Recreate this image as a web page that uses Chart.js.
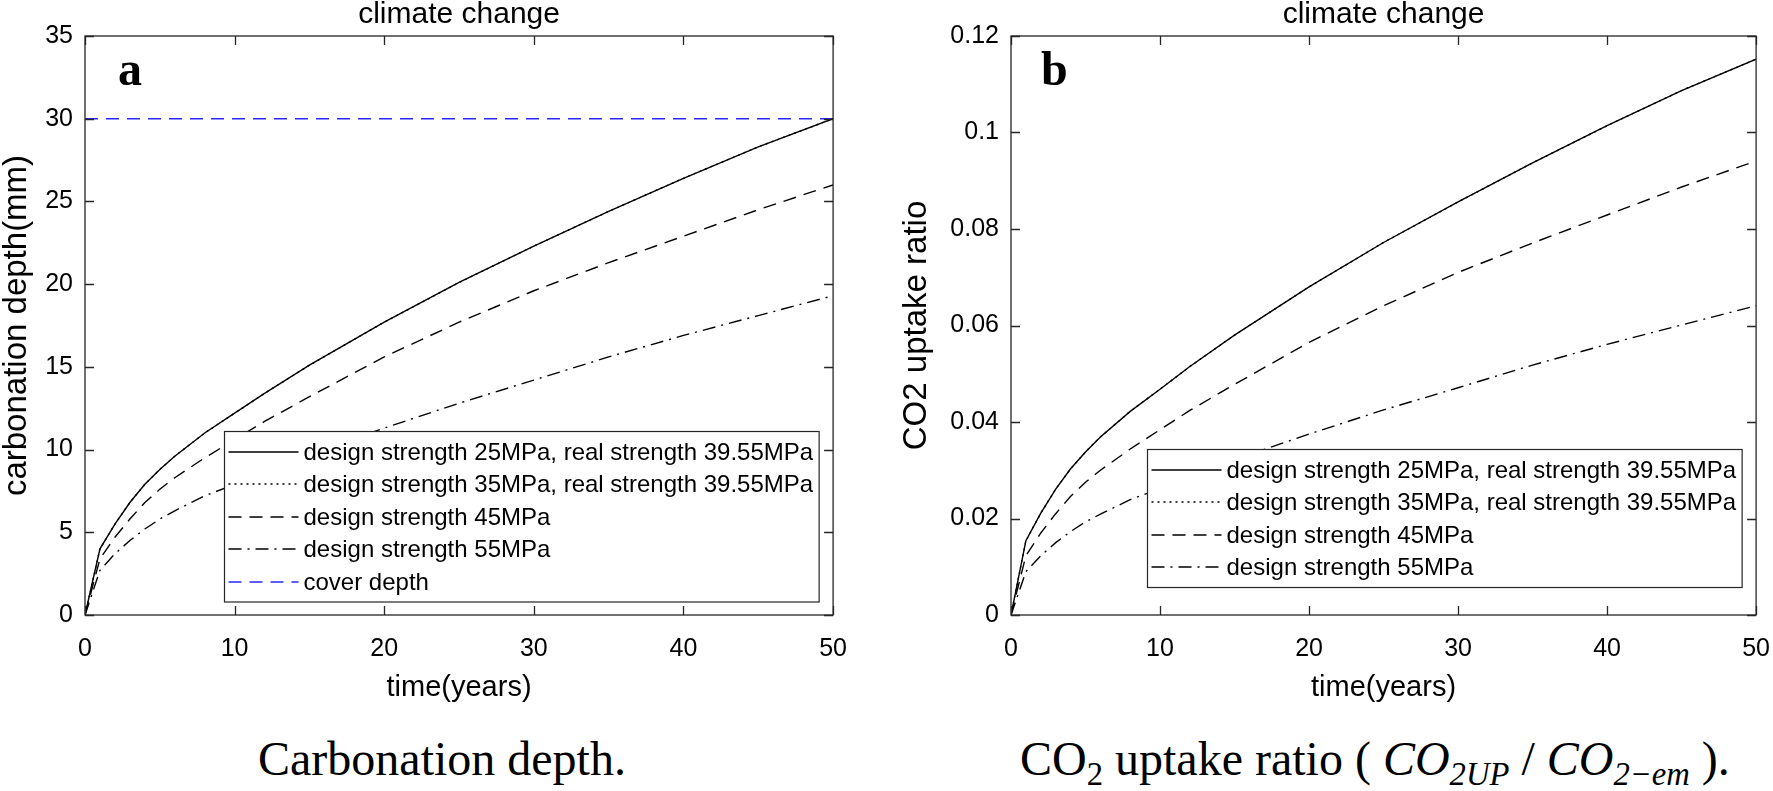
<!DOCTYPE html>
<html>
<head>
<meta charset="utf-8">
<script src="https://cdn.jsdelivr.net/npm/chart.js@4.4.1/dist/chart.umd.min.js"></script>
<style>
  body { margin: 0; background: #fff; width: 1773px; height: 791px; position: relative; overflow: hidden; }
  canvas { position: absolute; top: 0; }
  #chartA { left: 0; }
  #chartB { left: 900px; }
  .panel { position: absolute; font-family: "Liberation Serif", "Times New Roman", serif; font-weight: bold; font-size: 48px; line-height: 48px; color: #000; }
  .caption { position: absolute; font-family: "Liberation Serif", "Times New Roman", serif; font-size: 48px; line-height: 48px; color: #000; text-align: center; white-space: nowrap; }
  .caption sub { font-size: 0.68em; vertical-align: -0.3em; line-height: 0; }
</style>
</head>
<body>
<canvas id="chartA" width="866" height="710"></canvas>
<canvas id="chartB" width="889" height="710"></canvas>
<div class="panel" style="left:118px; top:45px;">a</div>
<div class="panel" style="left:1041px; top:45px;">b</div>
<div class="caption" style="left:142px; width:600px; top:735px;">Carbonation depth.</div>
<div class="caption" style="left:1020px; width:700px; top:735px;">CO<sub>2</sub> uptake ratio ( <i>CO</i><sub><i>2UP</i></sub> / <i>CO</i><sub><i>2&minus;em</i></sub> ).</div>
<script>
// años
var years = [0, 1, 2, 3, 4, 5, 6, 8, 10, 12, 15, 20, 25, 30, 35, 40, 45, 50];

// profundidad de carbonatación (mm)
var depth25 = [0, 4.0, 5.5, 6.8, 7.9, 8.8, 9.6, 11.0, 12.2, 13.4, 15.1, 17.7, 20.1, 22.3, 24.4, 26.4, 28.3, 30.0];
var depth35 = [0, 4.0, 5.5, 6.8, 7.9, 8.8, 9.6, 11.0, 12.2, 13.4, 15.1, 17.7, 20.1, 22.3, 24.4, 26.4, 28.3, 30.0];
var depth45 = [0, 3.4, 4.7, 5.8, 6.8, 7.6, 8.3, 9.5, 10.6, 11.7, 13.2, 15.6, 17.7, 19.6, 21.3, 22.9, 24.5, 26.0];
var depth55 = [0, 2.7, 3.7, 4.5, 5.2, 5.8, 6.3, 7.2, 7.9, 8.6, 9.7, 11.3, 12.8, 14.2, 15.6, 16.9, 18.1, 19.3];
var coverYears = [0, 50];
var coverDepth = [30, 30];

// ratio de captura de CO2
var uptake25 = [0, 0.0154, 0.0211, 0.0261, 0.0303, 0.0338, 0.0369, 0.0422, 0.0468, 0.0515, 0.0580, 0.0680, 0.0772, 0.0856, 0.0937, 0.1014, 0.1087, 0.1152];
var uptake35 = [0, 0.0154, 0.0211, 0.0261, 0.0303, 0.0338, 0.0369, 0.0422, 0.0468, 0.0515, 0.0580, 0.0680, 0.0772, 0.0856, 0.0937, 0.1014, 0.1087, 0.1152];
var uptake45 = [0, 0.0123, 0.0170, 0.0210, 0.0246, 0.0275, 0.0300, 0.0344, 0.0384, 0.0424, 0.0478, 0.0565, 0.0641, 0.0710, 0.0771, 0.0829, 0.0887, 0.0941];
var uptake55 = [0, 0.0090, 0.0123, 0.0150, 0.0173, 0.0193, 0.0209, 0.0239, 0.0262, 0.0286, 0.0322, 0.0375, 0.0425, 0.0471, 0.0518, 0.0561, 0.0601, 0.0641];

var labels = [
    'design strength 25MPa, real strength 39.55MPa',
    'design strength 35MPa, real strength 39.55MPa',
    'design strength 45MPa',
    'design strength 55MPa',
    'cover depth'
];

var SANS = '"Liberation Sans", Arial, Helvetica, sans-serif';
var AXIS_COLOR = '#262626';

function toPoints(xs, ys) {
    return xs.map(function (x, i) { return { x: x, y: ys[i] }; });
}

function lineSet(label, xs, ys, dash, color) {
    return {
        label: label,
        data: toPoints(xs, ys),
        borderColor: color || '#000',
        borderWidth: 1.4,
        borderDash: dash,
        pointRadius: 0,
        tension: 0,
        fill: false
    };
}

// caja estilo MATLAB con marcas hacia dentro
var boxTicks = {
    id: 'boxTicks',
    afterDatasetsDraw: function (chart) {
        var ctx = chart.ctx, a = chart.chartArea;
        var xs = chart.scales.x, ys = chart.scales.y;
        var len = 9;
        ctx.save();
        ctx.strokeStyle = AXIS_COLOR;
        ctx.lineWidth = 1.3;
        ctx.setLineDash([]);
        ctx.beginPath();
        xs.ticks.forEach(function (t) {
            var px = Math.round(xs.getPixelForValue(t.value)) + 0.5;
            ctx.moveTo(px, a.bottom); ctx.lineTo(px, a.bottom - len);
            ctx.moveTo(px, a.top); ctx.lineTo(px, a.top + len);
        });
        ys.ticks.forEach(function (t) {
            var py = Math.round(ys.getPixelForValue(t.value)) + 0.5;
            ctx.moveTo(a.left, py); ctx.lineTo(a.left + len, py);
            ctx.moveTo(a.right, py); ctx.lineTo(a.right - len, py);
        });
        ctx.stroke();
        ctx.strokeRect(a.left, a.top, a.right - a.left, a.bottom - a.top);
        ctx.restore();
    }
};

// leyenda dentro del área del gráfico (abajo a la derecha)
var boxLegend = {
    id: 'boxLegend',
    afterDraw: function (chart, args, opts) {
        var ctx = chart.ctx, a = chart.chartArea;
        var items = chart.data.datasets;
        ctx.save();
        ctx.font = '24px ' + SANS;
        var textW = 0;
        items.forEach(function (d) { textW = Math.max(textW, ctx.measureText(d.label).width); });
        var w = 4 + 70 + 5 + textW + 6;
        var h = items.length * opts.rowH + 8;
        var x = Math.round(a.right - opts.right - w) + 0.5;
        var y = Math.round(a.bottom - opts.bottom - h) + 0.5;
        ctx.fillStyle = '#fff';
        ctx.fillRect(x, y, w, h);
        ctx.strokeStyle = AXIS_COLOR;
        ctx.lineWidth = 1.2;
        ctx.strokeRect(x, y, w, h);
        items.forEach(function (d, i) {
            var cy = Math.round(y + 4 + opts.rowH * (i + 0.5));
            ctx.strokeStyle = d.borderColor;
            ctx.lineWidth = d.borderWidth;
            ctx.setLineDash(d.borderDash || []);
            ctx.beginPath();
            ctx.moveTo(x + 4, cy);
            ctx.lineTo(x + 74, cy);
            ctx.stroke();
            ctx.setLineDash([]);
            ctx.fillStyle = '#000';
            ctx.textBaseline = 'middle';
            ctx.fillText(d.label, x + 79, cy + 1);
        });
        ctx.restore();
    }
};

function makeOptions(yMax, yStep, yTitle, axisWidth, legendOpts) {
    return {
        responsive: false,
        animation: false,
        devicePixelRatio: 1,
        layout: { padding: { top: 0, right: 2, bottom: 8, left: 0 } },
        plugins: {
            legend: { display: false },
            tooltip: { enabled: false },
            title: {
                display: true,
                text: 'climate change',
                fullSize: false,
                color: '#000',
                font: { family: SANS, size: 30, weight: 'normal', lineHeight: 1 },
                padding: { top: 0, bottom: 6 }
            },
            boxLegend: legendOpts
        },
        scales: {
            x: {
                type: 'linear',
                min: 0,
                max: 50,
                grid: { display: false, drawTicks: false },
                border: { display: false },
                ticks: { stepSize: 10, color: '#000', padding: 19, font: { family: SANS, size: 25 } },
                title: {
                    display: true,
                    text: 'time(years)',
                    color: '#000',
                    font: { family: SANS, size: 29, lineHeight: 1 },
                    padding: { top: 0, bottom: 0 }
                },
                afterFit: function (s) { s.height = 87; }
            },
            y: {
                type: 'linear',
                min: 0,
                max: yMax,
                grid: { display: false, drawTicks: false },
                border: { display: false },
                ticks: {
                    stepSize: yStep,
                    color: '#000',
                    padding: 12,
                    font: { family: SANS, size: 25 },
                    callback: function (v) { return String(+v.toFixed(4)); }
                },
                title: {
                    display: true,
                    text: yTitle,
                    color: '#000',
                    font: { family: SANS, size: 33, lineHeight: 1 },
                    padding: { top: 0, bottom: 0 }
                },
                afterFit: function (s) { s.width = axisWidth; }
            }
        }
    };
}

// Gráfico a: profundidad de carbonatación
new Chart(document.getElementById('chartA').getContext('2d'), {
    type: 'line',
    data: {
        datasets: [
            lineSet(labels[0], years, depth25, []),
            lineSet(labels[1], years, depth35, [2, 4]),
            lineSet(labels[2], years, depth45, [13, 8]),
            lineSet(labels[3], years, depth55, [13, 6, 2, 6]),
            lineSet(labels[4], coverYears, coverDepth, [13, 8], 'rgb(40, 40, 255)')
        ]
    },
    options: makeOptions(35, 5, 'carbonation depth(mm)', 85, { rowH: 32.5, right: 14, bottom: 14 }),
    plugins: [boxTicks, boxLegend]
});

// Gráfico b: ratio de captura de CO2
new Chart(document.getElementById('chartB').getContext('2d'), {
    type: 'line',
    data: {
        datasets: [
            lineSet(labels[0], years, uptake25, []),
            lineSet(labels[1], years, uptake35, [2, 4]),
            lineSet(labels[2], years, uptake45, [13, 8]),
            lineSet(labels[3], years, uptake55, [13, 6, 2, 6])
        ]
    },
    options: makeOptions(0.12, 0.02, 'CO2 uptake ratio', 111, { rowH: 32.5, right: 14, bottom: 28 }),
    plugins: [boxTicks, boxLegend]
});
</script>
</body>
</html>
